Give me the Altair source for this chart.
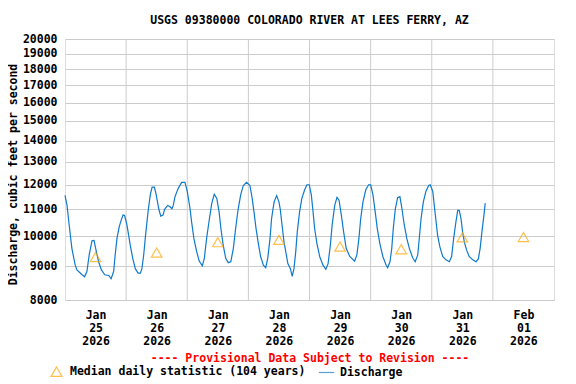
import altair as alt
import pandas as pd

TITLE = "USGS 09380000 COLORADO RIVER AT LEES FERRY, AZ"
Y_TITLE = "Discharge, cubic feet per second"
X_TITLE = "---- Provisional Data Subject to Revision ----"
MEDIAN_LABEL = "Median daily statistic (104 years)"
LINE_LABEL = "Discharge"

# hours after 2026-01-25 00:00 and discharge (cfs)
hours = [0.0, 0.8, 1.5, 2.1, 2.7, 4.0, 4.7, 6.7, 7.7, 8.6, 9.5, 10.6, 11.4, 12.3, 13.2,
         14.3, 15.6, 17.2, 18.1, 19.1, 19.7, 20.4, 21.3, 22.1, 22.8, 23.4, 24.3, 25.0,
         25.6, 26.6, 27.6, 28.7, 29.6, 30.2, 30.9, 31.5, 32.6, 33.5, 34.2, 35.1, 35.8,
         36.8, 37.6, 38.5, 39.1, 40.3, 41.1, 42.0, 42.5, 43.2, 44.5, 45.8, 47.1, 48.0,
         49.1, 49.7, 50.6, 51.7, 52.7, 53.9, 54.7, 55.6, 56.7, 57.6, 58.6, 59.6, 60.5,
         61.2, 62.1, 63.1, 64.1, 65.1, 66.1, 67.0, 68.0, 69.0, 70.0, 71.3, 72.6, 73.5,
         74.2, 75.0, 75.9, 76.8, 77.9, 78.8, 79.6, 80.5, 81.1, 82.1, 83.1, 84.0, 84.5,
         85.2, 86.0, 86.9, 87.5, 88.5, 89.2, 89.9, 90.6, 91.2, 92.1, 93.0, 94.1, 95.0,
         95.9, 96.7, 97.4, 98.0, 98.9, 100.0, 101.3, 102.4, 103.3, 104.2, 104.9, 105.9,
         106.8, 107.6, 108.5, 109.4, 110.4, 111.8, 113.7, 114.6, 115.4, 116.1, 117.0,
         118.1, 119.2, 120.0, 120.9, 121.8, 122.6, 123.6, 124.8, 126.1, 126.7, 127.6,
         128.3, 128.9, 129.7, 130.6, 131.5, 132.3, 133.2, 134.2, 135.2, 136.5, 137.5,
         138.5, 139.1, 139.8, 140.7, 141.7, 142.8, 143.4, 144.4, 145.0, 145.7, 146.3,
         147.2, 148.3, 149.6, 150.9, 151.8, 152.6, 153.5, 154.2, 154.8, 155.5, 156.1,
         156.8, 157.7, 158.7, 160.1, 161.4, 162.3, 163.0, 163.7, 164.4, 165.0]
discharge = [11550, 11150, 10530, 10040, 9590, 9040, 8890, 8740, 8680, 8840, 9370, 9850,
             9860, 9480, 9150, 8890, 8740, 8720, 8620, 8840, 9370, 9930, 10350, 10600,
             10780, 10760, 10420, 10040, 9710, 9260, 8930, 8790, 8790, 8930, 9370, 9930,
             10900, 11580, 11890, 11890, 11580, 11020, 10740, 10780, 11000, 11150, 11110,
             11020, 11150, 11500, 11850, 12090, 12090, 11710, 11020, 10530, 9930, 9480,
             9170, 9020, 9260, 9930, 10640, 11220, 11600, 11430, 10900, 10290, 9710, 9260,
             9120, 9150, 9590, 10290, 11020, 11580, 11960, 12090, 11960, 11430, 10900,
             10290, 9760, 9320, 9040, 8960, 9260, 9930, 10640, 11290, 11540, 11290, 11020,
             10420, 9800, 9370, 9090, 8930, 8690, 8930, 9480, 10160, 10900, 11430, 11780,
             11990, 11990, 11580, 10900, 10290, 9760, 9320, 9040, 8910, 9090, 9710, 10420,
             11150, 11470, 11360, 10780, 10160, 9590, 9320, 9170, 9370, 9930, 10640, 11290,
             11780, 11990, 11990, 11580, 10900, 10290, 9760, 9320, 9040, 8960, 9150, 9590,
             10290, 11020, 11460, 11500, 11020, 10420, 9930, 9590, 9280, 9150, 9370, 9930,
             10640, 11290, 11710, 11960, 11990, 11710, 11150, 10530, 10040, 9640, 9320,
             9210, 9150, 9320, 9930, 10530, 10960, 10960, 10640, 10160, 9800, 9530, 9320,
             9210, 9150, 9240, 9590, 10160, 10700, 11240]

median_days = ["2026-01-25", "2026-01-26", "2026-01-27", "2026-01-28",
               "2026-01-29", "2026-01-30", "2026-01-31", "2026-02-01"]
median_values = [9300, 9450, 9800, 9880, 9650, 9560, 9970, 9980]

grid_days = ["2026-01-26", "2026-01-27", "2026-01-28", "2026-01-29",
             "2026-01-30", "2026-01-31", "2026-02-01"]
y_ticks = [8000, 9000, 10000, 11000, 12000, 13000, 14000, 15000,
           16000, 17000, 18000, 19000, 20000]

start = pd.Timestamp("2026-01-25T00:00:00")
line_df = pd.DataFrame({
    "time": [(start + pd.Timedelta(hours=h)).strftime("%Y-%m-%dT%H:%M:%SZ") for h in hours],
    "value": discharge,
})
med_df = pd.DataFrame({
    "time": [d + "T12:00:00Z" for d in median_days],
    "value": median_values,
    "series": [MEDIAN_LABEL] * len(median_days),
})
grid_df = pd.DataFrame({"time": [d + "T00:00:00Z" for d in grid_days]})

FONT = "DejaVu Sans Mono"
FS = 11.5
BLUE = "#0E7ACB"
ORANGE = "#FFA500"

x_scale = alt.Scale(type="utc", domain=[
    alt.DateTime(year=2026, month=1, date=25, hours=0, utc=True),
    alt.DateTime(year=2026, month=2, date=2, hours=0, utc=True)])
y_scale = alt.Scale(type="log", domain=[8000, 20000], nice=False)

x_axis = alt.Axis(
    values=[alt.DateTime(year=2026, month=int(d[5:7]), date=int(d[8:10]), hours=12, utc=True)
            for d in median_days],
    labelExpr="[utcFormat(datum.value, '%b'), utcFormat(datum.value, '%d'), utcFormat(datum.value, '%Y')]",
    labelLineHeight=13, labelPadding=9, labelAlign="center", labelBaseline="top",
    grid=False, ticks=False, domain=False,
    labelFont=FONT, labelFontSize=FS, labelFontWeight="bold", labelColor="black",
    title=X_TITLE, titleColor="#FF0000", titleFont=FONT, titleFontSize=FS,
    titleFontWeight="bold", titlePadding=6,
)
y_axis = alt.Axis(
    values=y_ticks, format="d", grid=True, gridColor="#cccccc", gridWidth=1,
    ticks=False, domain=False, labelPadding=8,
    labelFont=FONT, labelFontSize=FS, labelFontWeight="bold", labelColor="black",
    title=Y_TITLE, titleFont=FONT, titleFontSize=FS, titleFontWeight="bold",
    titleColor="black", titleX=-52, titleY=135, titleAngle=270,
    titleAlign="center", titleBaseline="middle",
)

X = alt.X("time:T", scale=x_scale, axis=x_axis)
Y = alt.Y("value:Q", scale=y_scale, axis=y_axis)

rules = alt.Chart(grid_df).mark_rule(color="#cccccc", strokeWidth=1).encode(x=X)

line = alt.Chart(line_df).mark_line(color=BLUE, strokeWidth=1.2).encode(x=X, y=Y)

legend = alt.Legend(
    title=None, orient="none", legendX=-15, legendY=326, direction="horizontal",
    labelFont=FONT, labelFontSize=FS, labelFontWeight="bold", labelColor="black",
    labelLimit=400,
    symbolSize=121, symbolStrokeWidth=1.2, columnPadding=10, labelOffset=7,
    padding=0,
)
points = alt.Chart(med_df).mark_point(filled=False, size=110, strokeWidth=1.2).encode(
    x=X, y=Y,
    color=alt.Color("series:N", scale=alt.Scale(domain=[MEDIAN_LABEL, LINE_LABEL],
                                                range=[ORANGE, BLUE]), legend=legend),
    shape=alt.Shape("series:N", scale=alt.Scale(domain=[MEDIAN_LABEL, LINE_LABEL],
                                                range=["triangle-up", "M-1.4,0L1.4,0"]),
                    legend=legend),
)

chart = alt.layer(rules, line, points).properties(
    width=489, height=261,
    title=alt.TitleParams(TITLE, font=FONT, fontSize=FS, fontWeight="bold",
                          color="black", offset=7, anchor="middle"),
    autosize=alt.AutoSizeParams(type="none"),
    padding={"left": 57, "top": 31, "right": 14, "bottom": 80},
).configure_view(stroke="black", strokeWidth=1).configure(background="white")

chart.save("out.html", embed_options={"renderer": "svg", "actions": False})
